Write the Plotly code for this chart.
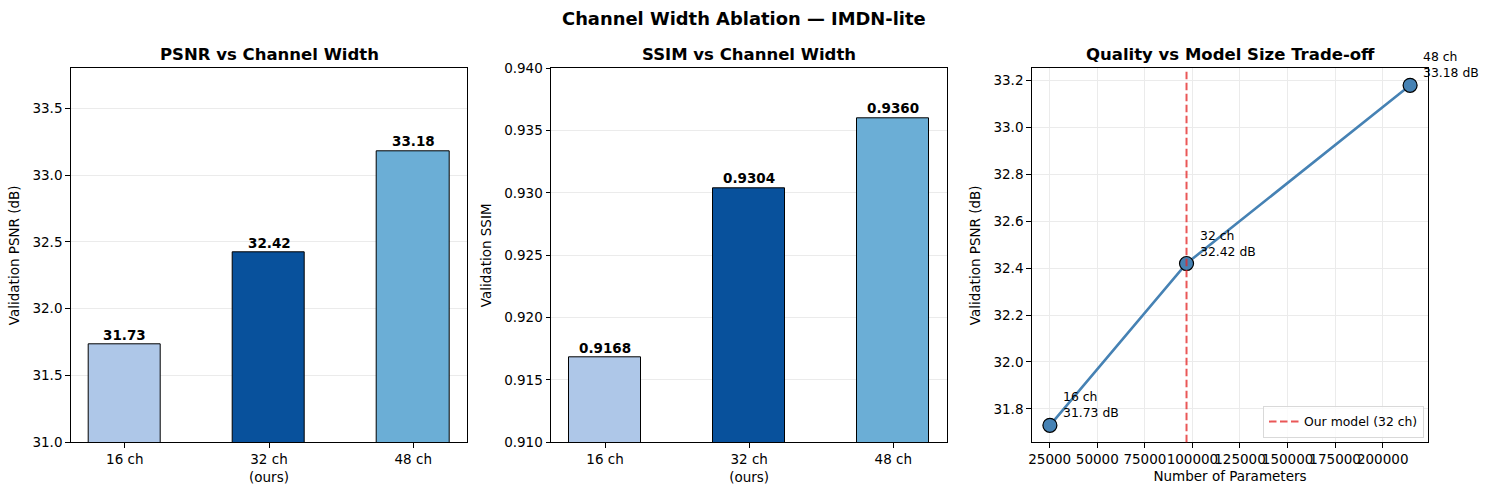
import plotly.graph_objects as go

# ---- data ----
channels = ["16 ch", "32 ch", "48 ch"]
tick_labels = ["16 ch", "32 ch<br>(ours)", "48 ch"]
psnr = [31.73, 32.42, 33.18]
ssim = [0.9168, 0.9304, 0.9360]
params = [25100, 96900, 214400]
bar_colors = ["#aec7e8", "#08519c", "#6baed6"]
x_ticks3 = [25000, 50000, 75000, 100000, 125000, 150000, 175000, 200000]

W, H = 1487, 495
FONT = "DejaVu Sans"

def fx(px):
    return px / W

def fy(py):
    return 1 - py / H

xd1 = [fx(70.7), fx(467.3)]
xd2 = [fx(551), fx(947.3)]
xd3 = [fx(1031.7), fx(1428.3)]
yd = [fy(442.3), fy(68.3)]

RED = "rgba(228,40,40,0.78)"
DASH = "7.5px,3.5px"

fig = go.Figure()
xs = list(range(len(channels)))

fig.add_trace(go.Bar(x=xs, y=psnr, width=0.5, marker=dict(color=bar_colors, line=dict(color="black", width=1)),
                     xaxis="x", yaxis="y", showlegend=False))
fig.add_trace(go.Bar(x=xs, y=ssim, width=0.5, marker=dict(color=bar_colors, line=dict(color="black", width=1)),
                     xaxis="x2", yaxis="y2", showlegend=False))
fig.add_trace(go.Scatter(x=params, y=psnr, mode="lines+markers",
                         line=dict(color="#4682b4", width=2.6),
                         marker=dict(size=14, color="#4682b4", line=dict(color="black", width=1.2)),
                         xaxis="x3", yaxis="y3", showlegend=False))
# legend entry for the vertical reference line
fig.add_trace(go.Scatter(x=[None], y=[None], mode="lines", name="Our model (32 ch)",
                         line=dict(color=RED, width=2, dash=DASH),
                         xaxis="x3", yaxis="y3", showlegend=True))

fig.add_shape(type="line", xref="x3", yref="y3 domain", x0=params[1], x1=params[1], y0=0, y1=1,
              line=dict(color=RED, width=2, dash=DASH), layer="above")

annotations = []
for i, v in enumerate(psnr):
    annotations.append(dict(x=xs[i], y=v, xref="x", yref="y", text=f"<b>{v:.2f}</b>", showarrow=False,
                            xanchor="center", yanchor="bottom", yshift=0,
                            font=dict(size=13.5, color="black", family=FONT)))
for i, v in enumerate(ssim):
    annotations.append(dict(x=xs[i], y=v, xref="x2", yref="y2", text=f"<b>{v:.4f}</b>", showarrow=False,
                            xanchor="center", yanchor="bottom", yshift=0,
                            font=dict(size=13.5, color="black", family=FONT)))
for i, (p, v) in enumerate(zip(params, psnr)):
    annotations.append(dict(x=p, y=v, xref="x3", yref="y3", text=f"{channels[i]}<br>{v:.2f} dB", showarrow=False,
                            xanchor="left", yanchor="bottom", align="left", xshift=11, yshift=3,
                            font=dict(size=12.4, color="black", family=FONT)))

# titles
annotations.append(dict(x=0.5, y=fy(18), xref="paper", yref="paper", text="<b>Channel Width Ablation — IMDN-lite</b>",
                        showarrow=False, xanchor="center", yanchor="middle",
                        font=dict(size=17.9, color="black", family=FONT)))
for xdom, t in [(xd1, "PSNR vs Channel Width"), (xd2, "SSIM vs Channel Width"), (xd3, "Quality vs Model Size Trade-off")]:
    annotations.append(dict(x=(xdom[0] + xdom[1]) / 2, y=fy(54), xref="paper", yref="paper", text=f"<b>{t}</b>",
                            showarrow=False, xanchor="center", yanchor="middle",
                            font=dict(size=16.5, color="black", family=FONT)))

axis_common = dict(showline=True, linecolor="black", linewidth=1, mirror=True, ticks="outside", ticklen=4.5,
                   tickwidth=1, tickcolor="black", tickfont=dict(size=13.5, color="black", family=FONT),
                   zeroline=False, tickangle=0, automargin=False)
title_font = dict(size=13.5, color="black", family=FONT)

fig.update_layout(
    width=W, height=H, margin=dict(l=0, r=0, t=0, b=0, autoexpand=False),
    paper_bgcolor="white", plot_bgcolor="white",
    font=dict(family=FONT, color="black"),
    annotations=annotations,
    bargap=0,
    xaxis=dict(domain=xd1, anchor="y", range=[-0.375, 2.375], tickvals=xs, ticktext=tick_labels,
               showgrid=False, **axis_common),
    yaxis=dict(domain=yd, anchor="x", range=[31.0, 33.8], tickvals=[31.0, 31.5, 32.0, 32.5, 33.0, 33.5],
               tickformat=".1f", showgrid=True, gridcolor="#ebebeb", gridwidth=1,
               title=dict(text="Validation PSNR (dB)", font=title_font, standoff=9), **axis_common),
    xaxis2=dict(domain=xd2, anchor="y2", range=[-0.375, 2.375], tickvals=xs, ticktext=tick_labels,
                showgrid=False, **axis_common),
    yaxis2=dict(domain=yd, anchor="x2", range=[0.910, 0.940],
                tickvals=[0.910, 0.915, 0.920, 0.925, 0.930, 0.935, 0.940], tickformat=".3f",
                showgrid=True, gridcolor="#ebebeb", gridwidth=1,
                title=dict(text="Validation SSIM", font=title_font, standoff=9), **axis_common),
    xaxis3=dict(domain=xd3, anchor="y3", range=[15535, 223965], tickvals=x_ticks3,
                ticktext=[str(v) for v in x_ticks3], showgrid=True, gridcolor="#ebebeb", gridwidth=1,
                title=dict(text="Number of Parameters", font=title_font, standoff=5), **axis_common),
    yaxis3=dict(domain=yd, anchor="x3", range=[31.6575, 33.2525],
                tickvals=[31.8, 32.0, 32.2, 32.4, 32.6, 32.8, 33.0, 33.2], tickformat=".1f",
                showgrid=True, gridcolor="#ebebeb", gridwidth=1,
                title=dict(text="Validation PSNR (dB)", font=title_font, standoff=9), **axis_common),
    legend=dict(x=fx(1424), y=fy(438), xanchor="right", yanchor="bottom",
                bgcolor="rgba(255,255,255,0.8)", bordercolor="#d9d9d9", borderwidth=1,
                font=dict(size=12.4, color="black", family=FONT)),
)

fig.write_html("out.html", config={"displayModeBar": False},
               post_script="document.body.style.margin='0';document.body.style.padding='0';")
